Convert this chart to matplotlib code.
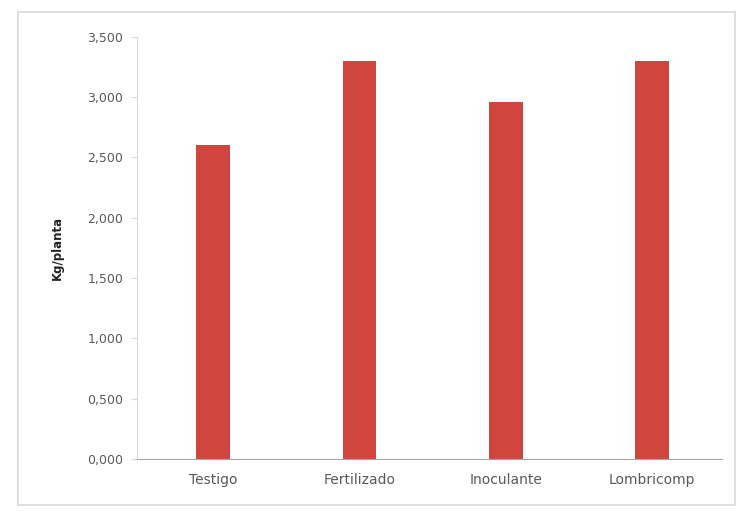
import matplotlib.pyplot as plt
from matplotlib.patches import Rectangle

categories = ["Testigo", "Fertilizado", "Inoculante", "Lombricomp"]
values = [2.60, 3.30, 2.96, 3.30]
yticks = [0.0, 0.5, 1.0, 1.5, 2.0, 2.5, 3.0, 3.5]
ylabels = ["0,000", "0,500", "1,000", "1,500", "2,000", "2,500", "3,000", "3,500"]

fig = plt.figure(figsize=(7.41, 5.11), dpi=100)
ax = fig.add_axes([0.185, 0.102, 0.79, 0.826])

# outer chart border
fig.patches.append(Rectangle((0.024, 0.012), 0.968, 0.965, transform=fig.transFigure,
                             fill=False, edgecolor="#d9d9d9", linewidth=1.2))

ax.bar(range(len(categories)), values, width=0.23, color="#d0463f")
ax.set_xlim(-0.52, 3.48)
ax.set_ylim(0, 3.5)
ax.set_yticks(yticks)
ax.set_yticklabels(ylabels)
ax.set_xticks(range(len(categories)))
ax.set_xticklabels(categories)

for s in ["top", "right"]:
    ax.spines[s].set_visible(False)
ax.spines["left"].set_color("#d9d9d9")
ax.spines["bottom"].set_color("#a6a6a6")
ax.tick_params(axis="y", colors="#d9d9d9", labelcolor="#595959", labelsize=9, length=4, pad=6)
ax.tick_params(axis="x", length=0, labelcolor="#595959", labelsize=10, pad=10)
ax.set_ylabel("Kg/planta", fontsize=8.5, fontweight="bold", color="#222222", labelpad=2)
ax.yaxis.set_label_coords(-0.125, 0.5)

plt.savefig("out.png", dpi=100)
